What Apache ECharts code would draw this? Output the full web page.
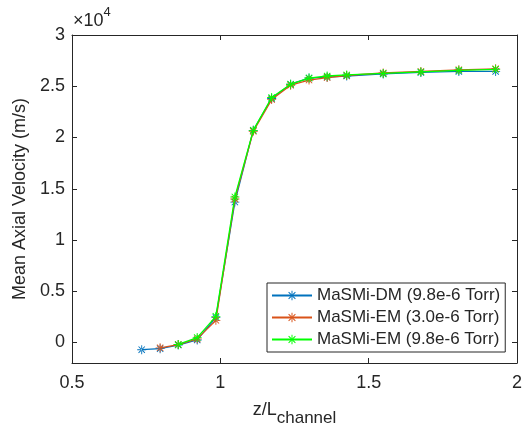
<!DOCTYPE html>
<html><head><meta charset="utf-8">
<script src="https://cdn.jsdelivr.net/npm/echarts@6/dist/echarts.min.js"></script>
<style>html,body{margin:0;padding:0;background:#fff}#c{width:526px;height:432px}</style>
</head><body><div id="c"></div>
<script>
const zPos = [0.735,0.797,0.858,0.922,0.985,1.049,1.111,1.173,1.237,1.299,1.360,1.426,1.549,1.676,1.804,1.928];
const dmLow = [-700,-600,-250,250,2430,13700,20700,23800,25200,25800,25900,26000,26200,26350,26450,26450];
const emLow = [null,-520,-200,350,2160,14000,20600,23700,25100,25600,25850,26050,26300,26450,26600,26700];
const emHigh = [null,null,-190,480,2550,14200,20700,23900,25200,25800,26000,26100,26250,26400,26550,26650];
const seriesNames = ['MaSMi-DM (9.8e-6 Torr)','MaSMi-EM (3.0e-6 Torr)','MaSMi-EM (9.8e-6 Torr)'];
const seriesColors = ['#0072BD','#D95319','#00FF00'];
const yTicks = [0,5000,10000,15000,20000,25000,30000];
const xTicks = [0.5,1,1.5,2];

const star = 'path://M-0.5,-5 L0.5,-5 L0.5,5 L-0.5,5 Z M-5,-0.5 L5,-0.5 L5,0.5 L-5,0.5 Z M3.182,3.889 L3.889,3.182 L-3.182,-3.889 L-3.889,-3.182 Z M3.889,-3.182 L3.182,-3.889 L-3.889,3.182 L-3.182,3.889 Z';

function pairs(ys){const out=[];ys.forEach((v,i)=>{if(v!==null)out.push([zPos[i],v]);});return out;}
const allY=[dmLow,emLow,emHigh];

const font='Liberation Sans, Arial, sans-serif';
const axisCol='#262626';
const chart=echarts.init(document.getElementById('c'),null,{renderer:'canvas'});
chart.setOption({
  animation:false,
  backgroundColor:'#fff',
  grid:{left:72,right:9,top:35,bottom:68},
  legend:{
    left:267, top:283, orient:'vertical',
    backgroundColor:'#fff', borderColor:axisCol, borderWidth:1, borderRadius:0,
    padding:[4,5,4,4], itemGap:5, itemWidth:40, itemHeight:12,
    textStyle:{fontFamily:font,fontSize:17,color:'#262626'},
    data:seriesNames
  },
  graphic:[{type:'text',left:73,top:6,style:{
    text:'{a|×10}{s|4}',
    rich:{a:{fontFamily:font,fontSize:18,fill:'#262626',padding:[6,0,0,0]},s:{fontFamily:font,fontSize:13,fill:'#262626',verticalAlign:'top'}}
  }}],
  xAxis:[{
    type:'value',min:0.5,max:2,interval:0.5,position:'bottom',
    axisLine:{show:true,onZero:false,lineStyle:{color:axisCol,width:1}},
    axisTick:{show:true,inside:true,length:5,lineStyle:{color:axisCol}},
    axisLabel:{fontFamily:font,fontSize:18,color:'#262626',margin:11,formatter:v=>String(v)},
    splitLine:{show:false},
    name:'{m|z/L}{s|channel}',nameLocation:'middle',nameGap:31,
    nameTextStyle:{rich:{m:{fontFamily:font,fontSize:18,color:'#262626'},s:{fontFamily:font,fontSize:17,color:'#262626',padding:[16,0,0,0]}}}
  },{
    type:'value',min:0.5,max:2,interval:0.5,position:'top',
    axisLine:{show:true,onZero:false,lineStyle:{color:axisCol,width:1}},
    axisTick:{show:true,inside:true,length:5,lineStyle:{color:axisCol}},
    axisLabel:{show:false},splitLine:{show:false}
  }],
  yAxis:[{
    type:'value',min:-2000,max:30000,position:'left',
    axisLine:{show:true,onZero:false,lineStyle:{color:axisCol,width:1}},
    axisTick:{show:true,inside:true,length:5,lineStyle:{color:axisCol},customValues:yTicks},
    axisLabel:{fontFamily:font,fontSize:18,color:'#262626',margin:7,customValues:yTicks,formatter:v=>String(v/10000)},
    splitLine:{show:false},
    name:'Mean Axial Velocity (m/s)',nameLocation:'middle',nameRotate:90,nameGap:37,
    nameTextStyle:{fontFamily:font,fontSize:18,color:'#262626'}
  },{
    type:'value',min:-2000,max:30000,position:'right',
    axisLine:{show:true,onZero:false,lineStyle:{color:axisCol,width:1}},
    axisTick:{show:true,inside:true,length:5,lineStyle:{color:axisCol},customValues:yTicks},
    axisLabel:{show:false},splitLine:{show:false}
  }],
  series:seriesNames.map((n,i)=>({
    name:n,type:'line',xAxisIndex:0,yAxisIndex:0,
    data:pairs(allY[i]),
    symbol:star,symbolSize:9,showSymbol:true,
    lineStyle:{color:seriesColors[i],width:1.3},
    itemStyle:{color:seriesColors[i]},
    z:2+i
  }))
});
</script></body></html>
